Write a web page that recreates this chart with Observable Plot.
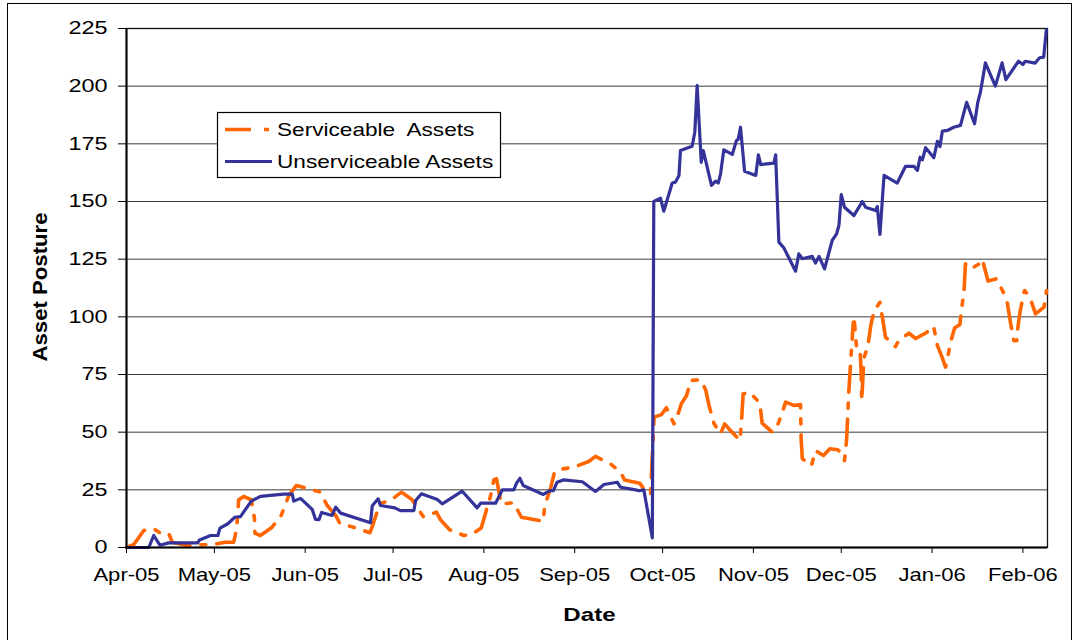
<!DOCTYPE html>
<html>
<head>
<meta charset="utf-8">
<script src="https://cdn.jsdelivr.net/npm/d3@7"></script>
<script src="https://cdn.jsdelivr.net/npm/@observablehq/plot@0.6"></script>
<style>
html, body { margin: 0; padding: 0; background: #fff; overflow: hidden; }
#wrap { position: relative; width: 1078px; height: 640px; overflow: hidden; background: #fff; }
#wrap svg { position: absolute; left: 0; top: 0; }
#border { position: absolute; left: 7px; top: 3px; width: 1065px; height: 680px; border: 1px solid #000; box-sizing: border-box; pointer-events: none; }
</style>
</head>
<body>
<div id="wrap"><div id="border"></div></div>
<script>
// ---- data (days counted from startDate) ----
const startDate = "2005-04-01";
const endDay = 314.4;
const monthTicks = ["2005-04-01","2005-05-01","2005-06-01","2005-07-01","2005-08-01","2005-09-01","2005-10-01","2005-11-01","2005-12-01","2006-01-01","2006-02-01"];
const yTicks = [0, 25, 50, 75, 100, 125, 150, 175, 200, 225];
const seriesNames = ["Serviceable  Assets", "Unserviceable Assets"];
const seriesColors = ["#FF6600", "#333399"];
const xTitle = "Date";
const yTitle = "Asset Posture";

const unserviceableDay = [0,7.6,9.3,11.4,14.4,24.3,24.9,28.7,31.2,31.9,
34.6,36.9,38.9,42.6,45.7,53.7,56.6,57.1,59.4,63.4,
64.5,65.7,66.6,70.2,71.4,73.1,83.3,83.9,85.9,86.7,
91.6,93.5,98.1,98.7,100.7,106.1,107.8,114.6,119.7,120.9,
126.0,128.3,132.2,133.2,134.3,135.4,142.3,144.5,145.7,147.0,
149.1,155.6,160.1,163.0,167.5,168.7,173.8,174.9,176.6,179.5,
180.0,182.3,183.4,186.3,187.4,188.6,189.1,193.1,194.0,194.8,
196.2,196.9,199.7,201.1,202.0,202.8,203.9,206.8,208.2,208.8,
209.6,211.0,214.8,215.7,216.5,221.0,221.6,222.7,224.4,228.4,
229.5,230.7,234.1,235.2,236.4,238.3,240.9,242.4,243.2,244.0,
245.1,248.3,251.2,252.3,255.7,256.3,257.2,258.6,263.1,265.9,
268.8,270.0,270.9,271.7,272.8,275.6,276.8,277.7,278.5,280.2,
282.4,284.7,286.8,289.5,290.6,291.5,293.2,296.6,298.9,300.2,
304.5,306.0,306.8,310.2,311.7,313.1,314.0];
const unserviceableValue = [0,0,5.2,1,2,2,3.3,5.2,5.2,8.4,
10.3,13.1,13.4,20.1,22.2,23.1,23.1,20.1,21.3,16.5,
12.2,12.1,15.2,13.9,17.5,14.9,10.7,18.1,21.1,18.2,
17.2,16,16,20.4,23.3,20.8,18.9,24.4,17.2,19.2,
19.2,25,25,28,30,26.9,23,24.7,24.6,28.3,
29.3,28.5,24.3,27.3,28.3,26.1,25,24.6,25,4.2,
150,151.4,145.8,158,158.4,161.3,172.1,174,180,200.3,
167,172.1,157,158.8,158,162,172.4,170.4,176.4,176.9,
182.2,163.1,161.3,170.2,166,166.6,170.2,132.4,129.9,119.8,
127.3,125.2,126.2,123.3,126.2,120.8,133.1,136,139.6,153,
147.5,143.9,150,147.5,146.1,147.8,135.7,161.3,158,165.2,
165.2,163.5,169.2,168.1,173.3,169,176.1,173.8,180.5,180.8,
182.2,183,193,183.7,193,197.4,210.1,200,210.1,202.8,
210.8,209.4,210.8,210,212.3,212.6,224.4];

const serviceableDay = [0,2.5,5.9,9.3,11.4,14.4,15.6,20.7,29.3,33.8,
36.6,37.6,38.3,40.0,42.6,43.7,43.8,45.7,49.7,52.8,
55.4,58.0,66.2,68.5,71.4,72.8,78.2,83.1,83.9,85.4,
86.1,90.1,93.9,97.5,101.3,105.8,107.2,110.3,115.2,117.7,
121.1,124.3,125.4,126.3,127.9,132.2,134.8,142.3,142.7,144.8,
146.1,147.6,152.7,157.8,160.1,165.2,168.7,170.0,175.2,177.8,
178.9,180.1,182.6,184.3,186.9,188.6,189.4,191.2,192.6,196.0,
197.7,198.8,200.5,202.8,204.2,205.6,209.4,209.9,210.5,212.8,
216.2,217.0,220.4,222.1,223.5,225.0,227.8,230.1,230.3,230.7,
233.8,235.2,237.9,240.1,242.8,244.3,245.1,245.8,246.6,247.5,
248.1,248.5,249.2,250.4,250.8,251.0,251.7,253.1,254.2,255.3,
257.2,258.3,259.1,262.5,263.7,267.1,269.4,272.8,275.5,276.8,
278.5,279.6,280.4,281.3,282.7,284.5,285.0,285.9,286.4,288.2,
291.2,291.6,292.2,293.3,294.1,297.0,299.3,300.7,301.8,302.9,
303.9,304.3,305.0,306.4,306.6,308.4,310.3,313.2,314.1];
const serviceableValue = [0,1.3,7.4,8.1,6.4,6.2,2.3,0.9,1.3,2.3,
2.3,8.1,20.7,22.1,20.7,12.4,6.2,5.2,8.8,13.9,
22.5,26.9,24,18.2,13.9,10.5,8.5,6.4,9.1,14.9,
18.9,20.4,24,20.7,13.4,15.3,12,7.7,5.2,5.6,
8.5,22.5,29.3,29.8,18.9,19.4,13.1,11.4,17.8,25.9,
32.6,33.8,34.8,37.3,39.5,36.3,32.6,29.3,27.9,23.3,
23.3,56.5,57.6,60.6,53.6,59.1,62.3,65.9,72.4,72.7,
68.4,61.9,53.9,49.3,53.6,51.5,46.4,53.6,66.6,67.3,
62.6,53.9,50,52.5,57.2,63,61.6,62,47.1,38.5,
35.5,42,39.9,42.8,42.4,40.6,37.7,46.4,68.1,86.1,
97.7,97.7,86.8,86.1,75.3,63.7,81.8,87.6,97.2,102.7,
106.3,97.7,91.2,87.1,90,92.9,90.6,92.9,95.9,87.6,
82.2,78.2,82.8,89,95.2,96.7,102.7,111.1,123,120.8,
123,124.7,124.7,119.3,115.5,116.5,110.7,105.9,97.2,89.7,
89.7,95.5,102,110.7,111.4,108.5,101.3,104.2,111.4];

// ---- build ----
const t0 = Date.parse(startDate + "T00:00:00Z");
const toDate = d => new Date(t0 + d * 864e5);
const rows = (days, vals, s) => days.map((d, i) => ({date: toDate(d), value: vals[i], series: s}));
const serv = rows(serviceableDay, serviceableValue, seriesNames[0]);
const unserv = rows(unserviceableDay, unserviceableValue, seriesNames[1]);
const tickDates = monthTicks.map(s => new Date(s + "T00:00:00Z"));
const FONT = "'Liberation Sans', Arial, Helvetica, sans-serif";

const chart = Plot.plot({
  width: 1078,
  height: 640,
  marginTop: 28,
  marginBottom: 93,
  marginLeft: 126,
  marginRight: 31,
  style: {fontFamily: FONT, fontSize: "18px", background: "transparent", color: "#000", overflow: "visible"},
  x: {type: "utc", domain: [toDate(0), toDate(endDay)]},
  y: {domain: [0, 225]},
  marks: [
    Plot.gridY(yTicks.filter(v => v > 0), {stroke: "#3c3c3c", strokeOpacity: 1, strokeWidth: 1}),
    Plot.frame({stroke: "#111", strokeWidth: 1.3}),
    Plot.line(serv, {x: "date", y: "value", stroke: seriesColors[0], strokeWidth: 3.6, strokeDasharray: "26,11,5,11", strokeLinejoin: "round"}),
    Plot.line(unserv, {x: "date", y: "value", stroke: seriesColors[1], strokeWidth: 3.2, strokeLinejoin: "round"}),
    Plot.ruleX([toDate(0)], {stroke: "#000", strokeWidth: 2}),
    Plot.ruleY([0], {stroke: "#000", strokeWidth: 2}),
    Plot.axisY({ticks: yTicks, tickSize: 8, tickPadding: 11, tickFormat: d => String(d), label: null, fontSize: 18}),
    Plot.axisX({ticks: tickDates, tickSize: 6, tickPadding: 14, tickFormat: d3.utcFormat("%b-%y"), label: null, fontSize: 19}),
    Plot.text([xTitle], {text: d => d, frameAnchor: "bottom", dx: 2.5, dy: 73, textAnchor: "middle", lineAnchor: "bottom", fontWeight: "bold", fontSize: 19}),
    Plot.text([yTitle], {text: d => d, frameAnchor: "left", dx: -79.3, dy: -1, rotate: -90, textAnchor: "middle", lineAnchor: "bottom", fontWeight: "bold", fontSize: 21})
  ]
});

const wrap = document.getElementById("wrap");
wrap.insertBefore(chart, wrap.firstChild);
const svg = d3.select(chart);

function stretch(sel, f) {
  sel.each(function () {
    const w = this.getComputedTextLength();
    this.setAttribute("textLength", (w * f).toFixed(1));
    this.setAttribute("lengthAdjust", "spacingAndGlyphs");
  });
}
stretch(svg.selectAll('g[aria-label="y-axis tick label"] text'), 1.3);
stretch(svg.selectAll('g[aria-label="x-axis tick label"] text'), 1.16);
svg.selectAll('g[aria-label="text"] text').each(function () {
  const w = this.getComputedTextLength();
  const t = this.textContent;
  const target = t === yTitle ? 149 : w * 1.27;
  this.setAttribute("textLength", target.toFixed(1));
  this.setAttribute("lengthAdjust", "spacingAndGlyphs");
});

// ---- legend ----
const lg = svg.append("g").attr("font-family", FONT).attr("font-size", 19)
  .attr("text-anchor", "start");
lg.append("rect").attr("x", 217.5).attr("y", 112.5).attr("width", 283).attr("height", 65)
  .attr("fill", "#fff").attr("stroke", "#000").attr("stroke-width", 1.2);
const legendRows = [
  {name: seriesNames[0], color: seriesColors[0], dash: "26,13,5,20", width: 3.6, y: 129.5, base: 136},
  {name: seriesNames[1], color: seriesColors[1], dash: null, width: 3.2, y: 161.5, base: 167.5}
];
legendRows.forEach(r => {
  const ln = lg.append("line").attr("x1", 225).attr("x2", 272).attr("y1", r.y).attr("y2", r.y)
    .attr("stroke", r.color).attr("stroke-width", r.width).attr("fill", "none");
  if (r.dash) ln.attr("stroke-dasharray", r.dash);
  lg.append("text").attr("x", 277).attr("y", r.base).attr("fill", "#000")
    .attr("text-anchor", "start").style("white-space", "pre").text(r.name);
});
stretch(lg.selectAll("text"), 1.19);
</script>
</body>
</html>
